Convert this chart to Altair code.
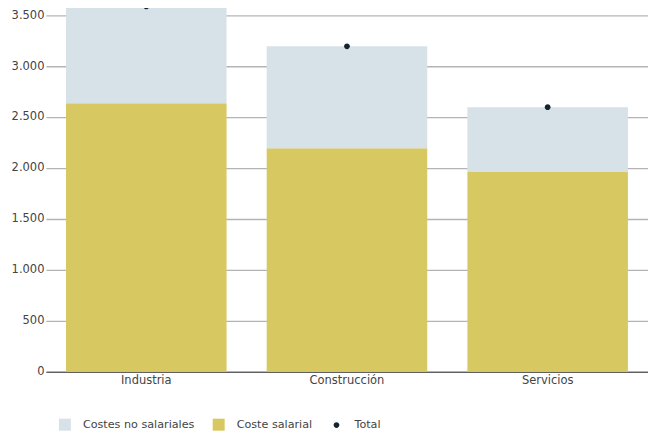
import altair as alt
import pandas as pd

categories = ["Industria", "Construcción", "Servicios"]
coste_salarial = [2635, 2194, 1959]
costes_no_salariales = [950, 999, 637]
total = [3585, 3193, 2596]

series = ["Costes no salariales", "Coste salarial", "Total"]
colors = ["#d7e2e8", "#d8c862", "#13262f"]
dot_path = "M-0.48,0A0.48,0.48,0,1,0,0.48,0A0.48,0.48,0,1,0,-0.48,0Z"
shapes = ["square", "square", dot_path]

rows = []
for c, s, n in zip(categories, coste_salarial, costes_no_salariales):
    rows.append({"cat": c, "serie": "Coste salarial", "valor": s, "orden": 0})
    rows.append({"cat": c, "serie": "Costes no salariales", "valor": n, "orden": 1})
bars_df = pd.DataFrame(rows)
tot_df = pd.DataFrame({"cat": categories, "serie": ["Total"] * 3, "valor": total})

FONT = "DejaVu Sans"

color_scale = alt.Scale(domain=series, range=colors)
shape_scale = alt.Scale(domain=series, range=shapes)
yscale = alt.Scale(domain=[0, 3566], nice=False, zero=True)
xenc = alt.X("cat:N", sort=categories, title=None,
             scale=alt.Scale(paddingInner=0.2, paddingOuter=0.1),
             axis=alt.Axis(labelAngle=0, ticks=False, domain=True, domainColor="#444",
                           domainWidth=1, labelPadding=3, grid=False))

legend = alt.Legend(title=None, orient="none", legendX=13, legendY=411, direction="horizontal",
                    symbolSize=144, labelOffset=12, columnPadding=18, padding=0,
                    symbolStrokeWidth=0, symbolOpacity=1, labelFontSize=11.2, labelColor="#444",
                    labelFont=FONT)

bars = alt.Chart(bars_df).mark_bar().encode(
    x=xenc,
    y=alt.Y("valor:Q", stack="zero", scale=yscale, title=None,
            axis=alt.Axis(values=[0, 500, 1000, 1500, 2000, 2500, 3000, 3500], ticks=False,
                          domain=False, gridColor="#b4b4b4", gridWidth=1.3, labelPadding=2,
                          labelExpr="replace(format(datum.value, ','), ',', '.')")),
    color=alt.Color("serie:N", scale=color_scale, legend=legend),
    order=alt.Order("orden:Q"),
)

points = alt.Chart(tot_df).mark_point(filled=True, size=144, opacity=1).encode(
    x=xenc,
    y=alt.Y("valor:Q", scale=yscale),
    color=alt.Color("serie:N", scale=color_scale, legend=legend),
    shape=alt.Shape("serie:N", scale=shape_scale, legend=legend),
)

chart = alt.layer(bars, points).properties(
    width=603, height=364,
    autosize=alt.AutoSizeParams(type="none"),
    padding={"left": 38, "top": 0, "right": 0, "bottom": 62},
).configure_view(stroke=None).configure_axis(
    labelFont=FONT, labelFontSize=11.5, labelColor="#444"
)

chart.save("out.html", embed_options={"renderer": "svg", "actions": False})
